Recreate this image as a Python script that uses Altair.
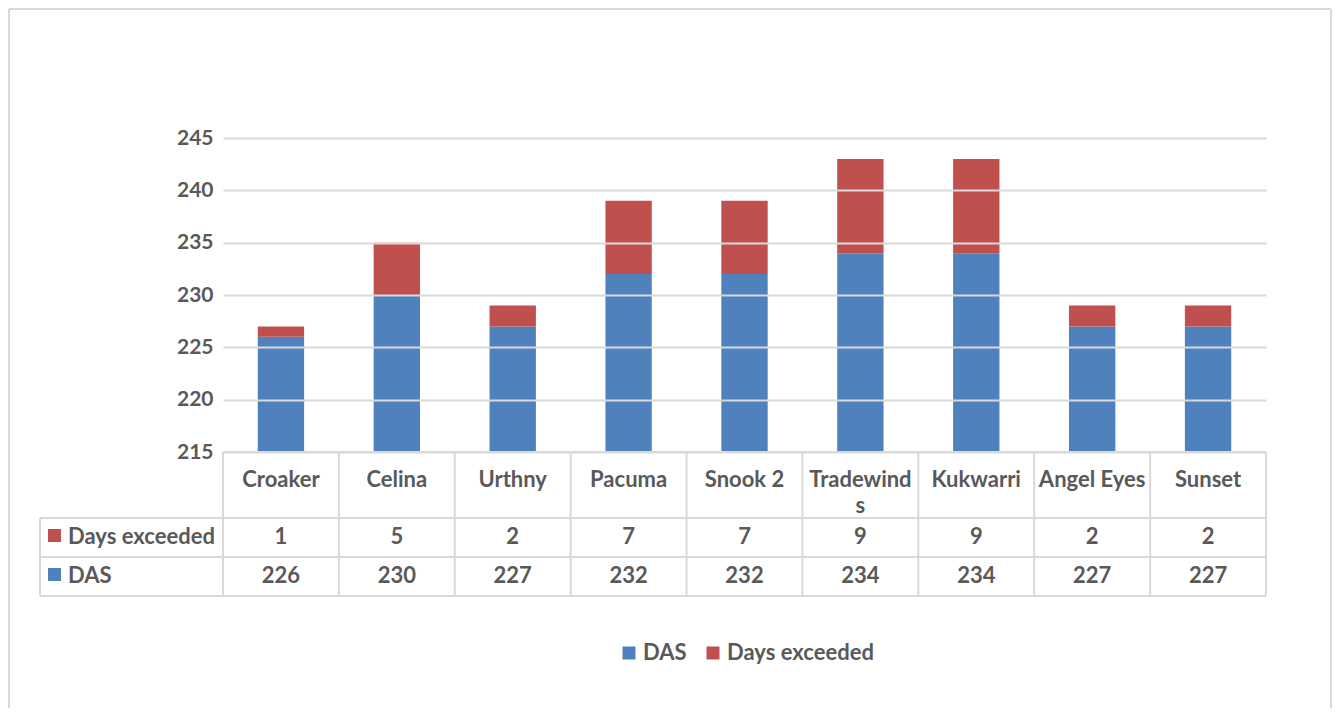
import altair as alt
import pandas as pd

# ---- data ----
categories = ["Croaker", "Celina", "Urthny", "Pacuma", "Snook 2", "Tradewinds", "Kukwarri", "Angel Eyes", "Sunset"]
header_labels = ["Croaker", "Celina", "Urthny", "Pacuma", "Snook 2", "Tradewind\ns", "Kukwarri", "Angel Eyes", "Sunset"]
das = [226, 230, 227, 232, 232, 234, 234, 227, 227]
exceeded = [1, 5, 2, 7, 7, 9, 9, 2, 2]
series_names = ["DAS", "Days exceeded"]
series_colors = ["#4f81bd", "#c0504d"]
y_ticks = [215, 220, 225, 230, 235, 240, 245]

# ---- layout ----
W, H = 1043, 314
FONT = "Lato"
FS = 22
TXT = "#595959"
LINE = "#d9d9d9"
ymin, ymax = y_ticks[0], y_ticks[-1]

rows = []
for c, d, e in zip(categories, das, exceeded):
    rows.append({"cat": c, "series": series_names[0], "y0": ymin, "y1": d})
    rows.append({"cat": c, "series": series_names[1], "y0": d, "y1": d + e})
df_bars = pd.DataFrame(rows)

df_cat = pd.DataFrame({"cat": categories, "label": header_labels, "das": das, "exceeded": exceeded})
df_edges = pd.DataFrame({"edge": list(range(len(categories) + 1))})
one = pd.DataFrame({"k": [0]})

xband = alt.X("cat:N", sort=categories, axis=None,
              scale=alt.Scale(paddingInner=0.6, paddingOuter=0.3))

bars = alt.Chart(df_bars).mark_bar().encode(
    x=xband,
    y=alt.Y("y1:Q", scale=alt.Scale(domain=[ymin, ymax]),
            axis=alt.Axis(values=y_ticks, grid=True, gridColor=LINE, gridWidth=2,
                          domain=False, ticks=False, labelFont=FONT, labelFontSize=21,
                          labelFontWeight="bold", labelColor=TXT, labelPadding=10,
                          title=None, zindex=1)),
    y2="y0",
    color=alt.Color("series:N", scale=alt.Scale(domain=series_names, range=series_colors),
                    legend=alt.Legend(orient="none", legendX=395, legendY=504,
                                      direction="horizontal", title=None,
                                      symbolType="square", symbolSize=169,
                                      symbolStrokeWidth=0, labelFont=FONT,
                                      labelFontSize=FS, labelFontWeight="bold",
                                      labelColor=TXT, columnPadding=15,
                                      labelOffset=3, padding=0)),
    order=alt.Order("y0:Q"),
)

txt_kw = dict(font=FONT, fontSize=FS, fontWeight="bold", color=TXT, align="center")

header = alt.Chart(df_cat).mark_text(baseline="alphabetic", lineBreak="\n", lineHeight=26, **txt_kw).encode(
    x=xband, y=alt.value(349), text="label:N")
row_exc = alt.Chart(df_cat).mark_text(baseline="alphabetic", **txt_kw).encode(
    x=xband, y=alt.value(406), text="exceeded:Q")
row_das = alt.Chart(df_cat).mark_text(baseline="alphabetic", **txt_kw).encode(
    x=xband, y=alt.value(445), text="das:Q")

lbl_kw = dict(font=FONT, fontSize=FS, fontWeight="bold", color=TXT, align="left", baseline="alphabetic")
lab_exc = alt.Chart(one).mark_text(text=series_names[1], **lbl_kw).encode(x=alt.value(-155), y=alt.value(406))
lab_das = alt.Chart(one).mark_text(text=series_names[0], **lbl_kw).encode(x=alt.value(-155), y=alt.value(445))
sq_exc = alt.Chart(one).mark_rect(color=series_colors[1]).encode(
    x=alt.value(-175), x2=alt.value(-162), y=alt.value(391), y2=alt.value(404))
sq_das = alt.Chart(one).mark_rect(color=series_colors[0]).encode(
    x=alt.value(-175), x2=alt.value(-162), y=alt.value(430), y2=alt.value(443))

rule_kw = dict(color=LINE, strokeWidth=2)
h_top = alt.Chart(one).mark_rule(**rule_kw).encode(x=alt.value(0), x2=alt.value(W), y=alt.value(H))
h1 = alt.Chart(one).mark_rule(**rule_kw).encode(x=alt.value(-183), x2=alt.value(W), y=alt.value(380))
h2 = alt.Chart(one).mark_rule(**rule_kw).encode(x=alt.value(-183), x2=alt.value(W), y=alt.value(419))
h3 = alt.Chart(one).mark_rule(**rule_kw).encode(x=alt.value(-183), x2=alt.value(W), y=alt.value(458))
v_left = alt.Chart(one).mark_rule(**rule_kw).encode(x=alt.value(-183), y=alt.value(380), y2=alt.value(458))
v_edges = alt.Chart(df_edges).mark_rule(**rule_kw).encode(
    x=alt.X("edge:Q", scale=alt.Scale(domain=[0, len(categories)], nice=False, zero=False), axis=None),
    y=alt.value(H), y2=alt.value(458))

# outer chart border
b_left = alt.Chart(one).mark_rule(**rule_kw).encode(x=alt.value(-214), y=alt.value(-129), y2=alt.value(572))
b_top = alt.Chart(one).mark_rule(**rule_kw).encode(x=alt.value(-214), x2=alt.value(1108), y=alt.value(-129))
b_right = alt.Chart(one).mark_rule(**rule_kw).encode(x=alt.value(1108), y=alt.value(-129), y2=alt.value(572))

chart = alt.layer(
    bars, h_top, h1, h2, h3, v_left, v_edges,
    header, row_exc, row_das, lab_exc, lab_das, sq_exc, sq_das,
    b_left, b_top, b_right,
).resolve_scale(x="independent").properties(
    width=W, height=H,
    autosize=alt.AutoSizeParams(type="none"),
    padding={"left": 215, "top": 130, "right": 66, "bottom": 256},
).configure(background="white").configure_view(stroke=None)

chart.save("out.html", embed_options={"renderer": "svg", "actions": False})
